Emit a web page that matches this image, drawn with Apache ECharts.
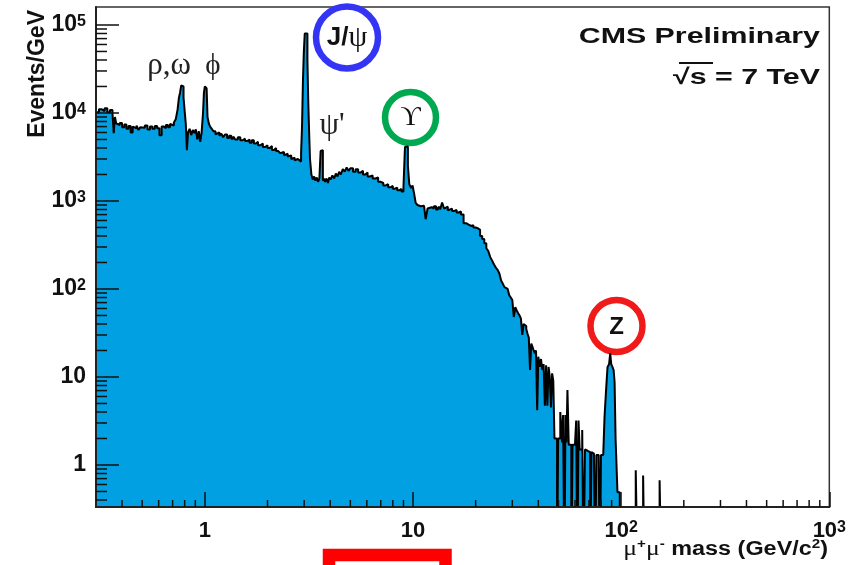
<!DOCTYPE html>
<html>
<head>
<meta charset="utf-8">
<title>CMS dimuon mass spectrum</title>
<script src="https://cdn.jsdelivr.net/npm/echarts@6/dist/echarts.min.js"></script>
<style>
html, body { margin: 0; padding: 0; background: #fff; }
#container { width: 849px; height: 565px; }
</style>
</head>
<body>
<div id="container"></div>
<script>
// lower edge of each bin (GeV/c^2)
var massLow = [
    0.30, 0.31, 0.32, 0.33, 0.34, 0.35, 0.36, 0.365, 0.37, 0.375,
    0.38, 0.39, 0.40, 0.41, 0.42, 0.43, 0.44, 0.45, 0.46, 0.47,
    0.48, 0.49, 0.50, 0.515, 0.53, 0.545, 0.56, 0.575, 0.59, 0.605,
    0.62, 0.635, 0.65, 0.665, 0.68, 0.695, 0.71, 0.725, 0.74, 0.75,
    0.76, 0.77, 0.78, 0.79, 0.80, 0.81, 0.82, 0.83, 0.845, 0.86,
    0.875, 0.89, 0.905, 0.92, 0.935, 0.95, 0.965, 0.98, 0.99, 1.00,
    1.01, 1.02, 1.03, 1.045, 1.06, 1.08, 1.10, 1.125, 1.15, 1.175,
    1.20, 1.225, 1.25, 1.28, 1.31, 1.34, 1.37, 1.40, 1.44, 1.48,
    1.52, 1.56, 1.60, 1.64, 1.68, 1.72, 1.76, 1.80, 1.85, 1.90,
    1.95, 2.00, 2.05, 2.10, 2.15, 2.20, 2.25, 2.30, 2.35, 2.40,
    2.45, 2.50, 2.55, 2.60, 2.65, 2.70, 2.75, 2.80, 2.85, 2.90,
    2.93, 2.96, 2.99, 3.02, 3.05, 3.08, 3.11, 3.14, 3.17, 3.20,
    3.25, 3.30, 3.35, 3.40, 3.45, 3.50, 3.55, 3.60, 3.64, 3.69,
    3.73, 3.78, 3.84, 3.90, 3.96, 4.02, 4.10, 4.18, 4.26, 4.34,
    4.42, 4.50, 4.60, 4.70, 4.80, 4.90, 5.00, 5.15, 5.30, 5.45,
    5.60, 5.75, 5.90, 6.05, 6.20, 6.40, 6.60, 6.80, 7.00, 7.20,
    7.40, 7.60, 7.80, 8.00, 8.20, 8.40, 8.60, 8.80, 9.00, 9.15,
    9.30, 9.45, 9.60, 9.80, 9.95, 10.1, 10.3, 10.5, 10.7, 10.9,
    11.1, 11.3, 11.5, 11.75, 12.0, 12.3, 12.6, 12.9, 13.2, 13.5,
    13.8, 14.1, 14.4, 14.7, 15.0, 15.4, 15.8, 16.2, 16.6, 17.0,
    17.5, 18.0, 18.5, 19.0, 19.5, 20.0, 20.5, 21.0, 21.5, 22.0,
    22.5, 23.0, 23.5, 24.0, 24.5, 25.0, 25.5, 26.0, 26.5, 27.0,
    27.5, 28.0, 28.5, 29.0, 29.5, 30.0, 30.5, 31.0, 31.5, 32.0,
    32.5, 33.0, 33.5, 34.0, 34.5, 35.0, 35.5, 36.0, 36.5, 37.0,
    37.5, 38.0, 38.5, 39.0, 39.5, 40.0, 40.6, 41.2, 41.8, 42.4,
    43.0, 43.6, 44.2, 44.8, 45.4, 46.0, 46.6, 47.2, 47.8, 48.6,
    49.2, 49.8, 50.4, 51.0, 52.0, 52.6, 53.4, 54.0, 54.6, 55.2,
    56.0, 56.8, 57.6, 58.4, 59.2, 60.0, 60.8, 61.6, 62.4, 63.2,
    64.0, 65.0, 66.0, 67.0, 68.0, 69.0, 70.0, 71.0, 72.0, 73.0,
    74.0, 75.0, 76.0, 77.0, 78.0, 79.0, 80.0, 81.0, 82.0, 83.2,
    84.6, 86.0, 87.5, 88.6, 89.6, 90.8, 92.0, 93.0, 94.0, 96.0,
    98.5, 117.5, 120, 127.5, 129.5, 153, 156, 1000
];

// events/GeV in each bin (0.05 = empty bin, below the axis)
var eventsPerGeV = [
    10200, 11000, 10500, 11300, 10200, 10800, 9900, 5900, 9000, 7600,
    7300, 7700, 6900, 7400, 6600, 7100, 6000, 7000, 6700, 7200,
    6400, 6900, 6800, 7200, 6500, 7000, 6600, 7100, 6700, 5600,
    7000, 6700, 7300, 6900, 7500, 7200, 7800, 8500, 11000, 14700,
    17000, 20500, 20000, 15000, 10500, 7500, 3770, 6000, 6600, 5600,
    6400, 5900, 6500, 5000, 6200, 4700, 6000, 10000, 17000, 20100,
    20100, 19000, 9000, 7600, 7000, 6600, 6200, 5700, 6000, 5500,
    5800, 5300, 5700, 5200, 5500, 5100, 5400, 5000, 5300, 4900,
    5100, 4800, 5000, 4600, 4900, 4500, 4700, 4300, 4500, 4100,
    4300, 4000, 4200, 3800, 4000, 3700, 3850, 3500, 3600, 3300,
    3450, 3200, 3300, 3000, 3100, 2900, 3000, 2850, 2800, 3500,
    7000, 23000, 50000, 80000, 82600, 80000, 40000, 13000, 6000, 3000,
    2000, 1750, 1900, 1700, 1850, 1650, 1800, 3700, 3770, 1700,
    1800, 1650, 1800, 1600, 1850, 1750, 1950, 1800, 2050, 1900,
    2150, 2000, 2300, 2150, 2400, 2200, 2350, 2150, 2300, 2100,
    2200, 2000, 2100, 1900, 1950, 1800, 1850, 1650, 1600, 1500,
    1550, 1430, 1480, 1380, 1420, 1320, 1370, 1280, 1450, 4100,
    4150, 2500, 1550, 1400, 1500, 1250, 950, 900, 870, 850,
    880, 840, 620, 820, 850, 820, 870, 800, 850, 800,
    960, 820, 860, 780, 820, 770, 790, 740, 760, 700,
    560, 540, 520, 530, 500, 490, 470, 400, 370, 330,
    290, 270, 230, 210, 190, 175, 165, 150, 125, 115,
    105, 100, 95, 85, 80, 75, 48, 62, 57, 53,
    50, 46, 30, 40, 38, 35, 31, 28, 12, 24,
    22, 20, 18.6, 20, 4.2, 17, 13, 16, 12, 14,
    4.7, 13.6, 4.7, 13, 10, 4.5, 11, 9, 2.0, 2.0,
    0.05, 2.0, 2.0, 4.0, 1.8, 3.7, 0.05, 3.7, 1.8, 7.1,
    1.7, 1.7, 0.05, 1.7, 1.7, 1.7, 3.2, 0.05, 3.2, 1.5,
    1.5, 2.5, 0.05, 1.5, 1.45, 1.45, 1.4, 0.05, 1.4, 1.35,
    1.3, 0.05, 1.3, 1.3, 1.3, 0.05, 1.3, 1.3, 1.3, 3.5,
    7, 13, 14, 18.6, 14, 13, 12, 8.7, 2.0, 0.49,
    0.05, 0.87, 0.05, 0.76, 0.05, 0.67, 0.05, 0.05
];

// axis ranges and tick marks
var xMin = 0.3, xMax = 1000;
var yMin = 0.333, yMax = 160000;
var decades = [0.1, 1, 10, 100, 1000, 10000, 100000];
var minorSteps = [2, 3, 4, 5, 6, 7, 8, 9];

var xMinor = [], yMinor = [];
decades.forEach(function (d) {
    minorSteps.forEach(function (s) {
        var v = +(d * s).toPrecision(3);
        if (v > xMin && v < xMax) xMinor.push([v, yMin]);
        if (v > yMin && v < yMax) yMinor.push([xMin, v]);
    });
});

var histData = massLow.map(function (m, i) { return [m, eventsPerGeV[i]]; });

var dom = document.getElementById('container');
var myChart = echarts.init(dom, null, { renderer: 'canvas' });

var sansBold = 'bold {s}px "Liberation Sans", Arial, sans-serif';
function font(size) { return sansBold.replace('{s}', size); }

// 1, 10, 10^2 ... labels
var powLabel = function (value) {
    var e = Math.round(Math.log10(value));
    if (e === 0) return '1';
    if (e === 1) return '10';
    return '10{sup|' + e + '}';
};

var tickStyle = { color: '#111', width: 1.5 };

var minorTick = function (horizontal, len) {
    return function (params, api) {
        var p = api.coord([api.value(0), api.value(1)]);
        var shape = horizontal
            ? { x1: p[0], y1: p[1], x2: p[0] + len, y2: p[1] }
            : { x1: p[0], y1: p[1], x2: p[0], y2: p[1] - len };
        return { type: 'line', shape: shape, style: { stroke: '#111', lineWidth: 1.5 } };
    };
};

var option = {
    animation: false,
    textStyle: { fontFamily: '"Liberation Sans", Arial, sans-serif' },
    grid: {
        left: 96, right: 16, top: 7, bottom: 58,
        show: true, borderColor: '#333', borderWidth: 1.5
    },
    xAxis: {
        type: 'log', logBase: 10, min: xMin, max: xMax, z: 10,
        axisLine: { show: true, lineStyle: { color: '#222', width: 2 } },
        axisTick: { show: true, inside: true, length: 15, lineStyle: tickStyle },
        splitLine: { show: false },
        axisLabel: {
            margin: 13, color: '#111', fontSize: 22, fontWeight: 'bold',
            showMinLabel: false,
            formatter: powLabel,
            rich: { sup: { fontSize: 16, fontWeight: 'bold', color: '#111', verticalAlign: 'top' } }
        }
    },
    yAxis: {
        type: 'log', logBase: 10, min: yMin, max: yMax, z: 10,
        axisLine: { show: true, lineStyle: { color: '#222', width: 2 } },
        axisTick: { show: true, inside: true, length: 23, lineStyle: tickStyle },
        splitLine: { show: false },
        axisLabel: {
            margin: 10, color: '#111', fontSize: 23, fontWeight: 'bold',
            showMinLabel: false, showMaxLabel: false,
            formatter: powLabel,
            rich: { sup: { fontSize: 16, fontWeight: 'bold', color: '#111', verticalAlign: 'top' } }
        }
    },
    series: [
        {
            name: 'dimuon',
            type: 'line',
            step: 'end',
            data: histData,
            symbol: 'none',
            clip: true,
            lineStyle: { color: '#000', width: 2 },
            areaStyle: { color: '#00a0e3', opacity: 1, origin: 'start' },
            z: 2
        },
        {
            type: 'custom',
            data: xMinor,
            renderItem: minorTick(false, 7),
            z: 12, silent: true
        },
        {
            type: 'custom',
            data: yMinor,
            renderItem: minorTick(true, 11),
            z: 12, silent: true
        }
    ],
    graphic: [
        {
            type: 'text', x: 38, y: 10, rotation: Math.PI / 2,
            style: { text: 'Events/GeV', font: font(23), fill: '#111', align: 'right', verticalAlign: 'middle' }
        },
        {
            type: 'text', x: 820, y: 37, scaleX: 1.38,
            style: { text: 'CMS Preliminary', font: font(22), fill: '#111', align: 'right', verticalAlign: 'middle' }
        },
        {
            type: 'text', x: 820, y: 78, scaleX: 1.38,
            style: { text: '\u221As = 7 TeV', font: font(22), fill: '#111', align: 'right', verticalAlign: 'middle' }
        },
        {
            type: 'line', shape: { x1: 679, y1: 63, x2: 713, y2: 63 },
            style: { stroke: '#111', lineWidth: 2 }
        },
        {
            type: 'text', x: 169, y: 66,
            style: { text: '\u03C1,\u03C9', font: '31px "Liberation Serif", serif', fill: '#222', align: 'center', verticalAlign: 'middle' }
        },
        {
            type: 'text', x: 213, y: 66,
            style: { text: '\u03D5', font: '29px "Liberation Serif", serif', fill: '#222', align: 'center', verticalAlign: 'middle' }
        },
        {
            type: 'circle', shape: { cx: 347, cy: 37.5, r: 31 },
            style: { fill: 'none', stroke: '#3434f5', lineWidth: 6.5 }
        },
        {
            type: 'text', x: 347, y: 38,
            style: {
                text: '{a|J/}{b|\u03C8}', align: 'center', verticalAlign: 'middle',
                rich: {
                    a: { font: font(26), fill: '#111' },
                    b: { font: '30px "Liberation Serif", serif', fill: '#111' }
                }
            }
        },
        {
            type: 'text', x: 332, y: 126,
            style: { text: '\u03C8\'', font: '31px "Liberation Serif", serif', fill: '#222', align: 'center', verticalAlign: 'middle' }
        },
        {
            type: 'circle', shape: { cx: 410.5, cy: 117.5, r: 25.5 },
            style: { fill: 'none', stroke: '#00a850', lineWidth: 6.5 }
        },
        {
            type: 'text', x: 410.5, y: 118,
            style: { text: '\u03D2', font: '28px "Liberation Serif", "DejaVu Serif", serif', fill: '#111', align: 'center', verticalAlign: 'middle' }
        },
        {
            type: 'circle', shape: { cx: 616.5, cy: 326, r: 26 },
            style: { fill: 'none', stroke: '#f01a1a', lineWidth: 6.5 }
        },
        {
            type: 'text', x: 616.5, y: 327,
            style: { text: 'Z', font: font(24), fill: '#111', align: 'center', verticalAlign: 'middle' }
        },
        {
            type: 'text', x: 828, y: 549, scaleX: 1.17,
            style: {
                text: '{m|\u03BC}{s|+}{m|\u03BC}{s|-}{t| mass (GeV/c}{s|2}{t|)}',
                align: 'right', verticalAlign: 'middle',
                rich: {
                    m: { font: '22px "Liberation Serif", serif', fill: '#111' },
                    s: { font: font(13), fill: '#111', verticalAlign: 'top' },
                    t: { font: font(20), fill: '#111' }
                }
            }
        },
        {
            type: 'rect', shape: { x: 329, y: 555, width: 116.5, height: 30 },
            style: { fill: 'none', stroke: '#ff0000', lineWidth: 12.5 }
        }
    ]
};

if (option && typeof option === 'object') {
    myChart.setOption(option, false);
}
</script>
</body>
</html>
